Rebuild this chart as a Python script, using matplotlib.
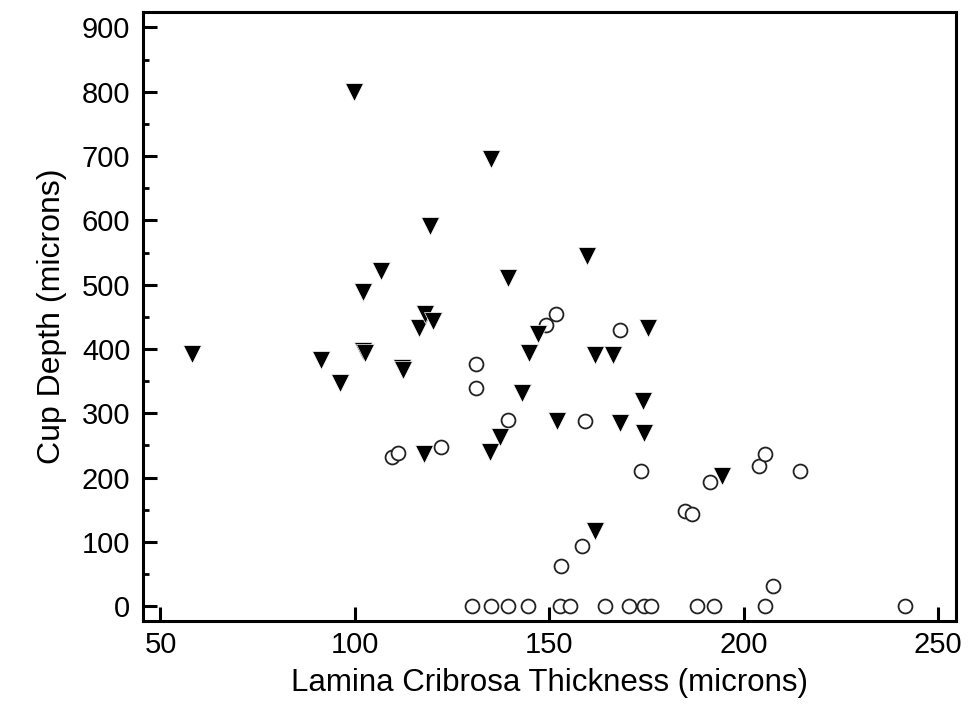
import matplotlib
matplotlib.use("Agg")
import matplotlib.pyplot as plt
from matplotlib.ticker import MultipleLocator

plt.rcParams['font.family'] = ['Liberation Sans', 'DejaVu Sans']

# filled triangles
tri_x = [58.0, 91.3, 96.1, 99.9, 102.0, 102.5, 102.1, 106.7, 112.0, 112.5,
         116.5, 117.7, 118.0, 119.2, 120.1, 134.7, 135.0, 137.4, 139.5, 142.9,
         144.9, 147.1, 151.9, 159.7, 161.7, 161.7, 166.3, 168.1, 174.0, 174.4,
         175.5, 194.4]
tri_y = [392, 383, 347, 799, 397, 394, 488, 521, 371, 368,
         433, 237, 454, 591, 443, 240, 696, 263, 510, 332,
         393, 424, 288, 544, 390, 117, 390, 285, 319, 270,
         432, 202]

# open circles
circ_x = [109.6, 111.1, 122.1, 131.2, 131.2, 139.5, 149.2, 151.7, 152.9, 158.4,
          159.1, 168.1, 173.5, 185.0, 186.7, 191.4, 204.0, 205.6, 207.5, 214.6,
          130.2, 135.0, 139.5, 144.5, 152.8, 155.2, 164.2, 170.5, 174.4, 176.2,
          188.0, 192.4, 205.6, 241.6]
circ_y = [232, 239, 247, 377, 340, 290, 438, 455, 62, 94,
          288, 430, 210, 148, 144, 193, 218, 237, 32, 210,
          0, 0, 0, 0, 0, 0, 0, 0, 0, 0,
          0, 0, 0, 0]

fig = plt.figure(figsize=(9.78, 7.13), dpi=100)
ax = fig.add_axes([0.1462, 0.129, 0.8313, 0.8542])

ax.plot(circ_x, circ_y, 'o', ms=10, mfc='white', mec='#222222', mew=1.3, zorder=3)
ax.plot(tri_x, tri_y, 'v', ms=13, mfc='black', mec='white', mew=0.5, zorder=4)

ax.set_xlim(45.5, 254.6)
ax.set_ylim(-23, 924)
ax.xaxis.set_major_locator(MultipleLocator(50))
ax.yaxis.set_major_locator(MultipleLocator(100))
ax.yaxis.set_minor_locator(MultipleLocator(50))

for s in ax.spines.values():
    s.set_linewidth(2.2)

ax.tick_params(axis='both', which='major', direction='in', length=10, width=2.2,
               labelsize=21)
ax.tick_params(axis='y', which='major', pad=9)
ax.tick_params(axis='x', which='major', pad=7)
ax.tick_params(axis='y', which='minor', direction='in', length=4.5, width=2.0)

ax.set_xlabel('Lamina Cribrosa Thickness (microns)', fontsize=22.5, labelpad=7)
ax.set_ylabel('Cup Depth (microns)', fontsize=23, labelpad=11)

fig.savefig('out.png', dpi=100)
